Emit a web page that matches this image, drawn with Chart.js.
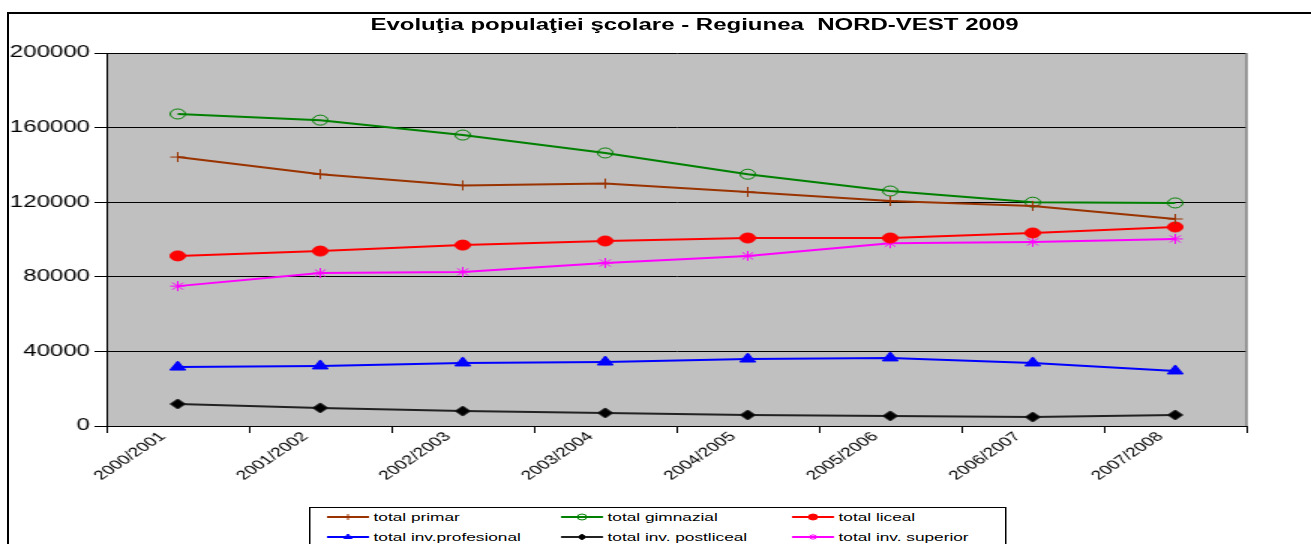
<!DOCTYPE html>
<html>
<head>
<meta charset="utf-8">
<script src="https://cdn.jsdelivr.net/npm/chart.js@4/dist/chart.umd.min.js"></script>
<style>
  html, body { margin: 0; padding: 0; background: #fff; overflow: hidden; }
  body { width: 1311px; height: 544px; position: relative; font-family: Arial, "Liberation Sans", sans-serif; }
  #frame { position: absolute; left: 7px; top: 12px; width: 1400px; height: 600px;
           border-left: 2px solid #000; border-top: 2px solid #000; }
  #stretch { position: absolute; left: 0; top: 0; width: 874px; height: 544px;
             transform: scaleX(1.5); transform-origin: 0 0; }
  #chart { position: absolute; left: 0; top: 0; }
  #title { position: absolute; left: 0; width: 926px; top: 16px; text-align: center;
           font: bold 16px Arial, "Liberation Sans", sans-serif; white-space: pre; color: #000; }
  #legend { position: absolute; left: 206px; top: 507px; width: 463px; height: 60px;
            border: 1px solid #000; background: #fff; }
  .item { position: absolute; height: 14px; font-size: 11.5px; line-height: 14px; color: #000; white-space: nowrap; }
  .item canvas { position: absolute; left: 0; top: 0; }
  .item span { position: absolute; left: 32px; top: 0; }
</style>
</head>
<body>
<div id="frame"></div>
<div id="stretch">
  <canvas id="chart" width="874" height="544"></canvas>
  <div id="title">Evoluţia populaţiei şcolare - Regiunea  NORD-VEST 2009</div>
  <div id="legend"></div>
</div>
<script>
'use strict';

const years = ['2000/2001', '2001/2002', '2002/2003', '2003/2004', '2004/2005', '2005/2006', '2006/2007', '2007/2008'];
const yTicks = [0, 40000, 80000, 120000, 160000, 200000];

const primar = [144200, 135000, 129000, 130000, 125500, 120600, 118000, 111000];
const gimnazial = [167300, 164000, 156000, 146400, 135000, 126000, 120000, 119600];
const liceal = [91200, 93800, 97000, 99200, 100800, 100800, 103500, 106700];
const profesional = [31600, 32200, 33800, 34300, 35900, 36500, 33800, 29500];
const postliceal = [11800, 9700, 8000, 7000, 5900, 5400, 4800, 5900];
const superior = [75000, 82000, 82600, 87400, 91200, 98000, 98700, 100300];

const series = [
  { label: 'total primar', data: primar, color: '#993300', fill: '#993300', style: 'cross', radius: 5 },
  { label: 'total gimnazial', data: gimnazial, color: '#008000', fill: 'rgba(0,0,0,0)', style: 'circle', radius: 5 },
  { label: 'total liceal', data: liceal, color: '#ff0000', fill: '#ff0000', style: 'circle', radius: 5 },
  { label: 'total inv.profesional', data: profesional, color: '#0000ff', fill: '#0000ff', style: 'triangle', radius: 6 },
  { label: 'total inv. postliceal', data: postliceal, color: '#222222', fill: '#000000', style: 'rectRot', radius: 5 },
  { label: 'total inv. superior', data: superior, color: '#ff00ff', fill: '#ff00ff', style: 'star', radius: 5 }
];

const plotBackground = {
  id: 'plotBackground',
  beforeDraw: function (chart) {
    const a = chart.chartArea;
    const ctx = chart.ctx;
    ctx.save();
    ctx.fillStyle = '#c0c0c0';
    ctx.fillRect(a.left, a.top, a.right - a.left, a.bottom - a.top);
    ctx.restore();
  },
  afterDatasetsDraw: function (chart) {
    const a = chart.chartArea;
    const ctx = chart.ctx;
    ctx.save();
    ctx.strokeStyle = '#808080';
    ctx.lineWidth = 1.5;
    ctx.beginPath();
    ctx.moveTo(a.right, a.top);
    ctx.lineTo(a.right, a.bottom);
    ctx.stroke();
    ctx.restore();
  }
};

new Chart(document.getElementById('chart'), {
  type: 'line',
  data: {
    labels: years,
    datasets: series.map(function (s) {
      return {
        label: s.label,
        data: s.data,
        borderColor: s.color,
        backgroundColor: s.fill,
        borderWidth: 2,
        tension: 0,
        fill: false,
        pointStyle: s.style,
        pointRadius: s.radius,
        pointBorderColor: s.color,
        pointBackgroundColor: s.fill,
        pointBorderWidth: 1
      };
    })
  },
  options: {
    responsive: false,
    animation: false,
    devicePixelRatio: 1,
    layout: { padding: { left: 0, right: 43, top: 53, bottom: 0 } },
    plugins: {
      legend: { display: false },
      title: { display: false },
      tooltip: { enabled: false }
    },
    scales: {
      x: {
        type: 'category',
        offset: true,
        afterFit: function (scale) { scale.height = 118; },
        grid: { offset: true, drawOnChartArea: false, color: '#000', tickLength: 7 },
        border: { color: '#000', width: 1 },
        ticks: {
          autoSkip: false,
          minRotation: 45,
          maxRotation: 45,
          padding: -4,
          labelOffset: -10,
          color: '#000',
          font: { family: 'Arial, "Liberation Sans", sans-serif', size: 13 }
        }
      },
      y: {
        min: 0,
        max: 200000,
        afterFit: function (scale) { scale.width = 71; },
        afterBuildTicks: function (scale) {
          scale.ticks = yTicks.map(function (v) { return { value: v }; });
        },
        grid: { color: '#000', tickLength: 8, lineWidth: 1 },
        border: { color: '#000', width: 1 },
        ticks: {
          padding: 3,
          color: '#000',
          font: { family: 'Arial, "Liberation Sans", sans-serif', size: 16 },
          callback: function (v) { return String(v); }
        }
      }
    }
  },
  plugins: [plotBackground]
});

// legend, three columns by two rows
const legend = document.getElementById('legend');
const colX = [10, 166, 320];
const rowY = [2, 22];
series.forEach(function (s, i) {
  const item = document.createElement('div');
  item.className = 'item';
  item.style.left = colX[i % 3] + 'px';
  item.style.top = rowY[Math.floor(i / 3)] + 'px';
  const c = document.createElement('canvas');
  c.width = 30;
  c.height = 14;
  const ctx = c.getContext('2d');
  ctx.strokeStyle = s.color;
  ctx.lineWidth = 2;
  ctx.beginPath();
  ctx.moveTo(1, 7);
  ctx.lineTo(29, 7);
  ctx.stroke();
  ctx.fillStyle = s.fill;
  ctx.lineWidth = 1;
  Chart.helpers.drawPoint(ctx, { pointStyle: s.style, radius: 3, rotation: 0, borderWidth: 1 }, 15, 7);
  const label = document.createElement('span');
  label.textContent = s.label;
  item.appendChild(c);
  item.appendChild(label);
  legend.appendChild(item);
});
</script>
</body>
</html>
